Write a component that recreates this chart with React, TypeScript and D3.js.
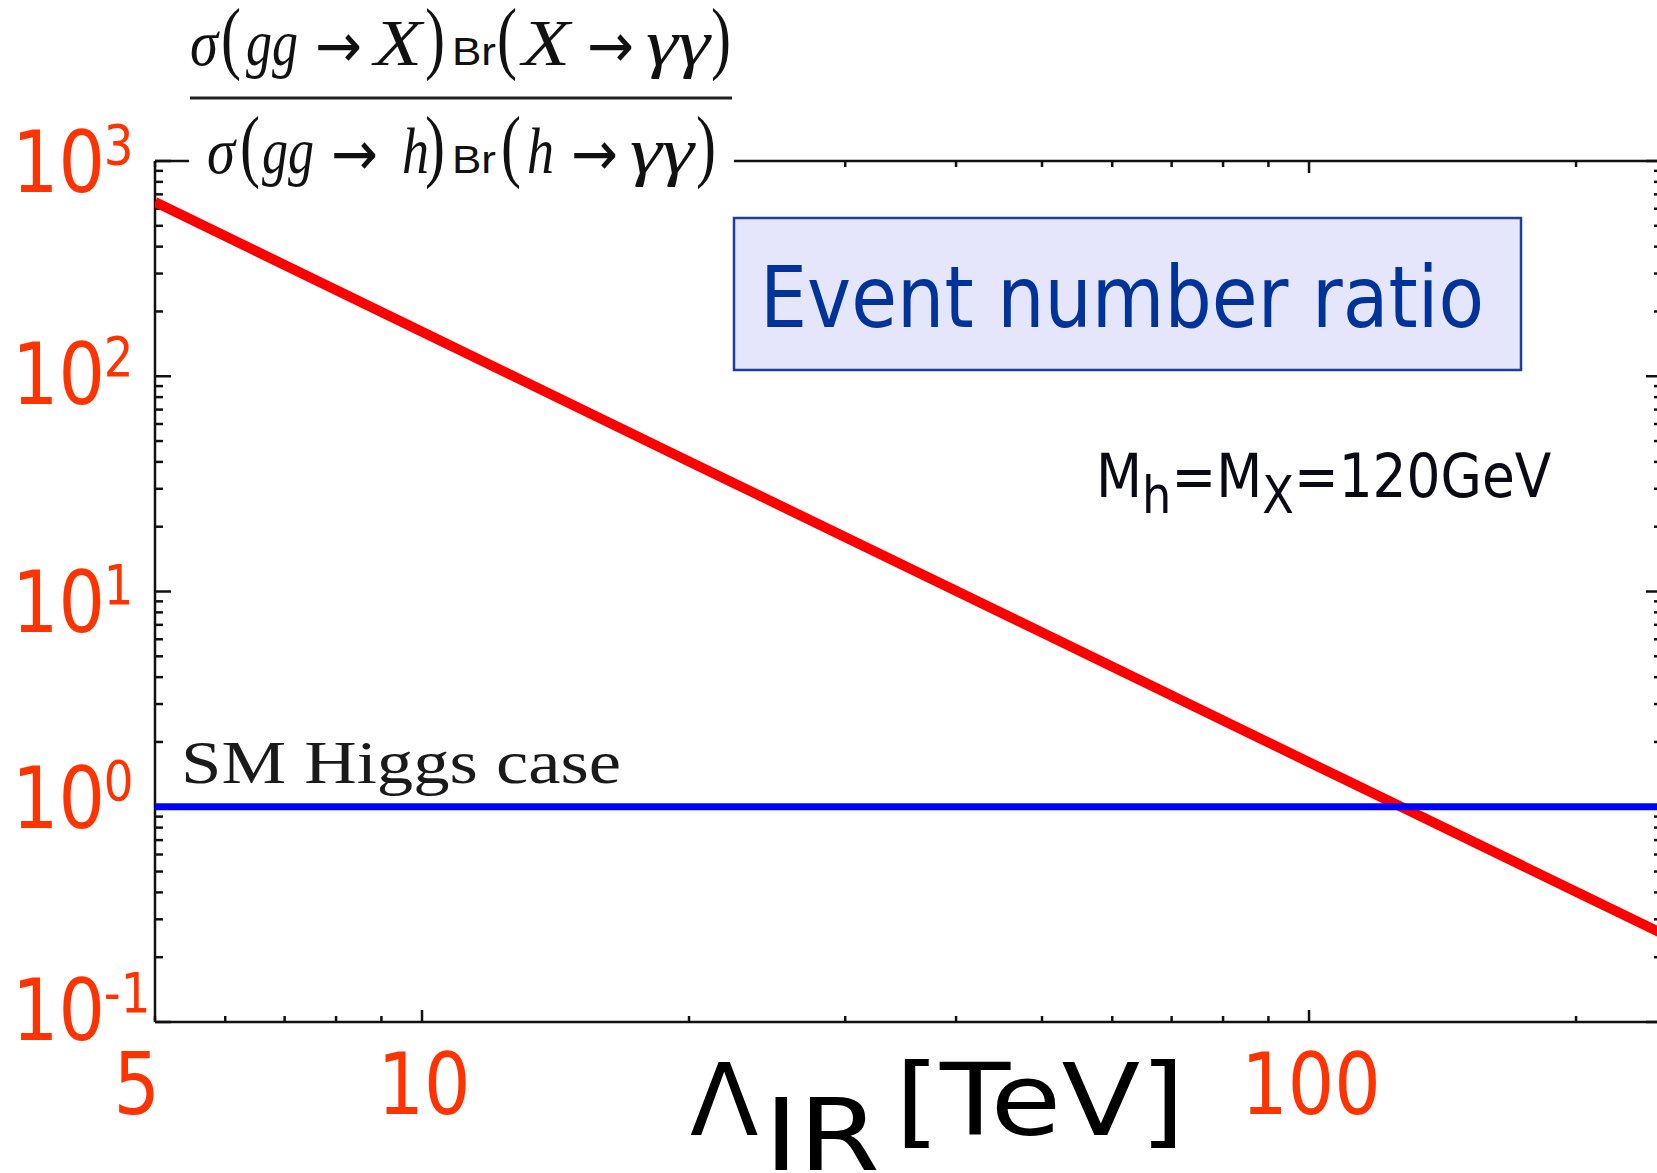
import React from "react";
import * as d3 from "d3";

// valeurs
const lambdaTeV = [5, 10, 20, 50, 100, 127, 200, 250];
const eventRatio = [645, 161, 40.2, 6.45, 1.61, 1.0, 0.403, 0.258];
const smHiggsRatio = 1;
const xTickValues = [5, 10, 100];
const xTickLabels = ["5", "10", "100"];
const yTickExponents = [3, 2, 1, 0, -1];

const W = 1657;
const H = 1173;
const plot = { left: 155, right: 1662, top: 161, bottom: 1022 };

const RED_LABEL = "#ff3300";
const SANS = "'DejaVu Sans', Verdana, sans-serif";
const SERIF = "'Liberation Serif', 'DejaVu Serif', serif";

type Tok = { t: string; x: number; w: number; k: "it" | "par" | "arr" | "br" };

const numerTokens: Tok[] = [
  { t: "σ", x: 190, w: 28, k: "it" },
  { t: "(", x: 221, w: 20, k: "par" },
  { t: "gg", x: 246, w: 52, k: "it" },
  { t: "→", x: 315, w: 47, k: "arr" },
  { t: "X", x: 374, w: 48, k: "it" },
  { t: ")", x: 425, w: 20, k: "par" },
  { t: "Br", x: 452, w: 44, k: "br" },
  { t: "(", x: 497, w: 20, k: "par" },
  { t: "X", x: 522, w: 48, k: "it" },
  { t: "→", x: 587, w: 47, k: "arr" },
  { t: "γγ", x: 646, w: 64, k: "it" },
  { t: ")", x: 711, w: 20, k: "par" },
];

const denomTokens: Tok[] = [
  { t: "σ", x: 207, w: 28, k: "it" },
  { t: "(", x: 240, w: 20, k: "par" },
  { t: "gg", x: 262, w: 52, k: "it" },
  { t: "→", x: 331, w: 47, k: "arr" },
  { t: "h", x: 402, w: 27, k: "it" },
  { t: ")", x: 425, w: 20, k: "par" },
  { t: "Br", x: 452, w: 44, k: "br" },
  { t: "(", x: 501, w: 20, k: "par" },
  { t: "h", x: 527, w: 27, k: "it" },
  { t: "→", x: 571, w: 47, k: "arr" },
  { t: "γγ", x: 630, w: 64, k: "it" },
  { t: ")", x: 696, w: 20, k: "par" },
];

function FormulaRow({ toks, base }: { toks: Tok[]; base: number }) {
  return (
    <g fill="#111">
      {toks.map((d, i) => {
        const common = { key: i, x: d.x, textLength: d.w, lengthAdjust: "spacingAndGlyphs" as const };
        if (d.k === "par")
          return <text {...common} y={base - 1} fontFamily={SERIF} fontSize={80}>{d.t}</text>;
        if (d.k === "br")
          return <text {...common} y={base} fontFamily="'Liberation Sans', Arial, sans-serif" fontSize={38}>{d.t}</text>;
        if (d.k === "arr")
          return <text {...common} y={base + 2} fontFamily="'DejaVu Sans', sans-serif" fontSize={62}>{d.t}</text>;
        return <text {...common} y={base} fontFamily={SERIF} fontStyle="italic" fontSize={66}>{d.t}</text>;
      })}
    </g>
  );
}

const isMajor = (v: number) => Math.abs(Math.log10(v) - Math.round(Math.log10(v))) < 1e-9;

export default function App() {
  const x = d3.scaleLog().domain([5, 250]).range([plot.left, plot.right]);
  const y = d3.scaleLog().domain([0.1, 1000]).range([plot.bottom, plot.top]);
  // les étiquettes de l'axe y sont posées à la main, un peu plus serrées que les décades
  const labelY = d3.scaleLinear().domain([3, -1]).range([192, 1040]);

  const xTicks = x.ticks();
  const yTicks = y.ticks();

  const pts = lambdaTeV.map((l, i) => [l, eventRatio[i]] as [number, number]);
  const redPath = d3.line<[number, number]>().x(d => x(d[0])).y(d => y(d[1]))(pts) ?? "";

  return (
    <svg width={W} height={H} style={{ position: "absolute", left: 0, top: 0, display: "block", background: "#fff" }}>
      <defs>
        <clipPath id="plotClip">
          <rect x={plot.left} y={plot.top} width={plot.right - plot.left} height={plot.bottom - plot.top} />
        </clipPath>
      </defs>

      {/* cadre */}
      <g stroke="#111" strokeWidth={2.5} fill="none">
        <line x1={plot.left} x2={plot.right} y1={plot.bottom} y2={plot.bottom} />
        <line x1={plot.left} x2={plot.right} y1={plot.top} y2={plot.top} />
        <line x1={plot.left} x2={plot.left} y1={plot.top} y2={plot.bottom} />
        <line x1={plot.right} x2={plot.right} y1={plot.top} y2={plot.bottom} />
      </g>
      <g stroke="#111" strokeWidth={2.5}>
        {xTicks.map((v, i) => {
          const len = isMajor(v) ? 12 : 6;
          return (
            <g key={i}>
              <line x1={x(v)} x2={x(v)} y1={plot.bottom} y2={plot.bottom - len} />
              <line x1={x(v)} x2={x(v)} y1={plot.top} y2={plot.top + len} />
            </g>
          );
        })}
        {yTicks.map((v, i) => {
          const len = isMajor(v) ? 16 : 8;
          return (
            <g key={i}>
              <line x1={plot.left} x2={plot.left + len} y1={y(v)} y2={y(v)} />
              <line x1={plot.right} x2={plot.right - len} y1={y(v)} y2={y(v)} />
            </g>
          );
        })}
      </g>

      {/* courbes */}
      <g clipPath="url(#plotClip)">
        <path d={redPath} fill="none" stroke="#ff0000" strokeWidth={10} />
        <line x1={x(5)} x2={x(250)} y1={y(smHiggsRatio)} y2={y(smHiggsRatio)} stroke="#0000ff" strokeWidth={7} />
      </g>

      {/* titre en fraction, sur fond blanc qui masque le haut du cadre */}
      <rect x={189} y={148} width={545} height={26} fill="#fff" />
      <FormulaRow toks={numerTokens} base={65} />
      <line x1={190} x2={732} y1={98} y2={98} stroke="#222" strokeWidth={3} />
      <FormulaRow toks={denomTokens} base={173} />

      {/* étiquettes y */}
      {yTickExponents.map(e => (
        <g key={e} transform={`translate(12,${labelY(e) + (e === 1 ? 16 : 0)}) scale(0.85,1)`} fill={RED_LABEL} fontFamily={SANS}>
          <text x={0} fontSize={86}>10</text>
          <text x={108} y={-28} fontSize={55}>{e < 0 ? `-${-e}` : `${e}`}</text>
        </g>
      ))}

      {/* étiquettes x */}
      {xTickValues.map((v, i) => (
        <g key={v} transform={`translate(${i === 0 ? x(v) + 5 : x(v) + 2},1114) scale(0.85,1)`}>
          <text textAnchor={i === 0 ? "end" : "middle"} fontSize={86} fontFamily={SANS} fill={RED_LABEL}>
            {xTickLabels[i]}
          </text>
        </g>
      ))}

      {/* titre de l'axe x */}
      <g fontFamily={SANS} fill="#000" fontSize={100}>
        <text x={690} y={1135}>Λ</text>
        <text x={764} y={1170} textLength={116} lengthAdjust="spacingAndGlyphs">IR</text>
        <text x={895} y={1135} textLength={290} lengthAdjust="spacingAndGlyphs">[TeV]</text>
      </g>

      {/* encadré */}
      <rect x={734} y={218} width={787} height={152} fill="#e5e5fb" stroke="#1f3d9e" strokeWidth={2.5} />
      <text x={760} y={327} fontFamily={SANS} fontSize={85} fill="#003399" textLength={724} lengthAdjust="spacingAndGlyphs">
        Event number ratio
      </text>

      {/* masses */}
      <g transform="translate(1096,497) scale(0.89,1)" fontFamily={SANS} fill="#0a0a14">
        <text fontSize={60}>
          M<tspan fontSize={52} dy={16}>h</tspan>
          <tspan dy={-16}>=M</tspan>
          <tspan fontSize={52} dy={16}>X</tspan>
          <tspan dy={-16}>=120GeV</tspan>
        </text>
      </g>

      <text x={181} y={783} fontFamily={SERIF} fontSize={62} fill="#1a1a1a" textLength={440} lengthAdjust="spacingAndGlyphs">
        SM Higgs case
      </text>
    </svg>
  );
}
